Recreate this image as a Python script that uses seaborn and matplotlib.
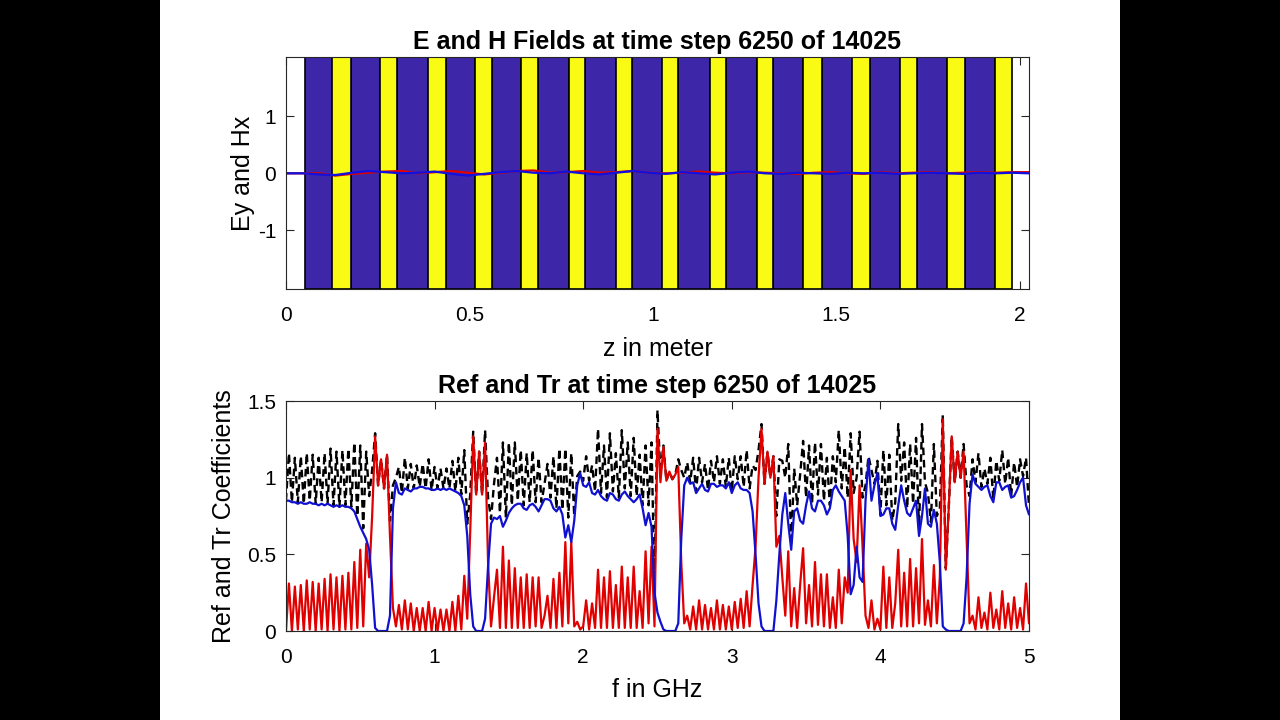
import numpy as np
import matplotlib
matplotlib.use("Agg")
import matplotlib.pyplot as plt
from matplotlib.patches import Rectangle
import seaborn as sns

# ---------------- data ----------------
# top panel: photonic layer stack (z in metres)
stack_start_m = 0.0518
yellow_start_m = [0.1262, 0.2561, 0.3861, 0.5150, 0.6411, 0.7719, 0.8992, 1.0253,
                  1.1553, 1.2842, 1.4095, 1.5414, 1.6730, 1.8003, 1.9319]
yellow_end_m = [0.1763, 0.3033, 0.4351, 0.5621, 0.6880, 0.8147, 0.9420, 1.0689,
                1.1989, 1.3278, 1.4597, 1.5913, 1.7185, 1.8501, 1.9774]

# top panel field snapshot (sample step 0.045 m)
z_m = np.round(np.arange(46) * 0.045, 3)
ey_vals = [0.00, 0.00, -0.02, -0.03, 0.01, 0.04, 0.02, 0.00, 0.01, 0.03,
           -0.01, -0.04, -0.01, 0.02, 0.04, 0.01, 0.00, 0.03, 0.00, -0.02,
           0.01, 0.04, 0.01, -0.01, 0.02, 0.00, -0.02, 0.01, 0.03, 0.00,
           -0.01, 0.01, 0.00, -0.01, 0.01, 0.00, 0.01, -0.01, 0.00, 0.01,
           0.00, -0.01, 0.01, 0.00, 0.01, 0.00]
hx_vals = [0.00, 0.00, 0.00, -0.04, -0.01, 0.01, 0.03, 0.04, 0.00, 0.02,
           0.04, 0.01, -0.02, 0.01, 0.04, 0.05, 0.01, 0.02, 0.04, 0.01,
           0.02, 0.04, 0.01, 0.00, 0.01, 0.03, 0.01, 0.00, 0.02, 0.01,
           0.00, -0.01, 0.01, 0.02, 0.00, -0.01, 0.02, 0.00, 0.01, 0.02,
           0.00, 0.01, 0.02, 0.01, 0.02, 0.02]

# bottom panel: spectra sampled every 0.02 GHz from 0 to 5 GHz
freq_ghz = np.round(np.arange(251) * 0.02, 2)
ref_vals = [
    0.00, 0.31, 0.00, 0.29, 0.01, 0.30, 0.00, 0.33, 0.01, 0.32,
    0.00, 0.31, 0.01, 0.34, 0.00, 0.37, 0.01, 0.35, 0.00, 0.36,
    0.01, 0.38, 0.01, 0.45, 0.02, 0.53, 0.03, 0.57, 0.35, 0.75,
    1.27, 0.95, 1.12, 0.93, 1.15, 0.62, 0.15, 0.03, 0.17, 0.01,
    0.20, 0.01, 0.18, 0.00, 0.15, 0.00, 0.15, 0.00, 0.19, 0.00,
    0.15, 0.00, 0.14, 0.00, 0.14, 0.00, 0.19, 0.00, 0.23, 0.01,
    0.36, 0.08, 0.65, 1.27, 0.89, 1.17, 0.89, 1.23, 0.45, 0.03,
    0.22, 0.40, 0.02, 0.55, 0.02, 0.46, 0.02, 0.41, 0.02, 0.35,
    0.02, 0.37, 0.02, 0.35, 0.03, 0.35, 0.02, 0.10, 0.23, 0.02,
    0.34, 0.02, 0.38, 0.03, 0.58, 0.05, 0.58, 0.03, 0.06, 0.01,
    0.03, 0.20, 0.01, 0.18, 0.02, 0.40, 0.02, 0.35, 0.02, 0.39,
    0.02, 0.30, 0.02, 0.42, 0.02, 0.35, 0.02, 0.42, 0.02, 0.26,
    0.02, 0.52, 0.05, 0.55, 0.03, 1.32, 0.97, 1.20, 0.98, 1.04,
    0.99, 1.02, 1.07, 0.45, 0.05, 0.10, 0.01, 0.16, 0.01, 0.20,
    0.01, 0.17, 0.01, 0.15, 0.01, 0.20, 0.01, 0.17, 0.01, 0.16,
    0.01, 0.19, 0.02, 0.21, 0.02, 0.26, 0.03, 0.30, 0.55, 1.00,
    1.32, 0.96, 1.17, 1.00, 1.14, 0.55, 0.62, 0.35, 0.10, 0.52,
    0.03, 0.28, 0.02, 0.30, 0.54, 0.05, 0.30, 0.03, 0.45, 0.04,
    0.37, 0.03, 0.37, 0.02, 0.22, 0.02, 0.40, 0.05, 0.35, 0.25,
    1.05, 0.60, 0.45, 0.95, 0.55, 0.10, 0.02, 0.20, 0.01, 0.08,
    0.01, 0.42, 0.02, 0.35, 0.02, 0.18, 0.53, 0.03, 0.38, 0.03,
    0.47, 0.03, 0.41, 0.05, 0.60, 0.04, 0.20, 0.03, 0.43, 0.05,
    0.35, 1.38, 0.40, 0.80, 1.27, 0.97, 1.17, 1.00, 1.17, 0.60,
    0.05, 0.10, 0.01, 0.22, 0.02, 0.12, 0.01, 0.25, 0.02, 0.14,
    0.01, 0.26, 0.02, 0.18, 0.01, 0.22, 0.02, 0.15, 0.01, 0.31, 0.05]
tr_vals = [
    0.85, 0.85, 0.84, 0.84, 0.83, 0.84, 0.83, 0.83, 0.84, 0.83,
    0.83, 0.82, 0.83, 0.82, 0.83, 0.82, 0.81, 0.82, 0.81, 0.82,
    0.81, 0.81, 0.80, 0.78, 0.73, 0.68, 0.64, 0.60, 0.53, 0.30,
    0.02, 0.00, 0.00, 0.00, 0.00, 0.10, 0.80, 0.97, 0.90, 0.89,
    0.93, 0.92, 0.91, 0.93, 0.93, 0.94, 0.94, 0.93, 0.93, 0.92,
    0.92, 0.93, 0.92, 0.93, 0.92, 0.93, 0.92, 0.91, 0.90, 0.88,
    0.82, 0.62, 0.24, 0.03, 0.00, 0.00, 0.00, 0.08, 0.42, 0.70,
    0.74, 0.73, 0.75, 0.68, 0.72, 0.77, 0.80, 0.82, 0.83, 0.83,
    0.80, 0.79, 0.82, 0.83, 0.81, 0.78, 0.82, 0.86, 0.86, 0.85,
    0.80, 0.78, 0.81, 0.76, 0.61, 0.69, 0.58, 0.72, 0.95, 1.03,
    0.95, 0.94, 0.97, 0.90, 0.89, 0.92, 0.88, 0.86, 0.85, 0.90,
    0.89, 0.86, 0.85, 0.89, 0.91, 0.88, 0.86, 0.84, 0.86, 0.89,
    0.80, 0.69, 0.77, 0.68, 0.25, 0.12, 0.06, 0.01, 0.00, 0.00,
    0.00, 0.00, 0.05, 0.60, 0.95, 1.00, 0.96, 0.97, 0.90, 0.93,
    0.96, 0.92, 0.91, 0.96, 0.96, 0.94, 0.95, 0.95, 0.93, 0.97,
    0.90, 0.95, 0.97, 0.93, 0.92, 0.92, 0.90, 0.78, 0.50, 0.18,
    0.03, 0.00, 0.00, 0.00, 0.00, 0.20, 0.50, 0.76, 0.90, 0.70,
    0.53, 0.78, 0.80, 0.72, 0.70, 0.82, 0.91, 0.80, 0.78, 0.85,
    0.85, 0.82, 0.76, 0.80, 0.92, 0.95, 0.91, 0.88, 0.85, 0.62,
    0.24, 0.30, 0.55, 0.35, 0.32, 0.85, 1.12, 0.85, 0.95, 1.03,
    0.75, 0.76, 0.80, 0.80, 0.70, 0.66, 0.82, 0.95, 0.85, 0.77,
    0.75, 0.80, 0.85, 0.62, 0.75, 0.93, 0.70, 0.68, 0.79, 0.70,
    0.45, 0.03, 0.01, 0.00, 0.00, 0.00, 0.00, 0.00, 0.05, 0.35,
    0.83, 1.02, 0.96, 0.94, 0.92, 0.94, 0.95, 0.88, 0.84, 0.97,
    0.97, 0.92, 0.94, 0.95, 0.87, 0.88, 0.92, 0.97, 1.00, 0.82, 0.76]

# conservation curve: Ref + Tr
con_vals = np.array(ref_vals) + np.array(tr_vals)

top_xticks = [0, 0.5, 1, 1.5, 2]
top_xticklabels = ["0", "0.5", "1", "1.5", "2"]
top_yticks = [-1, 0, 1]
top_yticklabels = ["-1", "0", "1"]
bot_xticks = [0, 1, 2, 3, 4, 5]
bot_yticks = [0, 0.5, 1, 1.5]
bot_yticklabels = ["0", "0.5", "1", "1.5"]

# ---------------- style ----------------
sns.set_style("white")
plt.rcParams["font.family"] = ["Liberation Sans", "DejaVu Sans"]
plt.rcParams["axes.unicode_minus"] = False
plt.rcParams["text.color"] = "black"
plt.rcParams["axes.labelcolor"] = "black"

BLUE_LAYER = "#3E26A8"
YELLOW_LAYER = "#F9FB15"
TICK_FS = 15
LABEL_FS = 18
TITLE_FS = 18

fig = plt.figure(figsize=(12.8, 7.2), dpi=100)
fig.patch.set_facecolor("black")
fig.patches.append(Rectangle((0.125, 0.0), 0.75, 1.0, transform=fig.transFigure,
                             facecolor="white", edgecolor="none", zorder=-10))

ax1 = fig.add_axes([0.2234, 0.5986, 0.5805, 0.3222])
ax2 = fig.add_axes([0.2234, 0.1236, 0.5805, 0.3194])

# ---- top panel ----
blue_starts = [stack_start_m] + yellow_end_m[:-1]
for b0, b1 in zip(blue_starts, yellow_start_m):
    ax1.axvspan(b0, b1, facecolor=BLUE_LAYER, edgecolor="black", linewidth=1.2, zorder=1)
for y0, y1 in zip(yellow_start_m, yellow_end_m):
    ax1.axvspan(y0, y1, facecolor=YELLOW_LAYER, edgecolor="black", linewidth=1.2, zorder=1)

sns.lineplot(x=z_m, y=hx_vals, ax=ax1, color="#E00000", linewidth=1.6, zorder=3)
sns.lineplot(x=z_m, y=ey_vals, ax=ax1, color="#1010E0", linewidth=1.6, zorder=4)

ax1.set_xlim(0, 2.025)
ax1.set_ylim(-2.03, 2.04)
ax1.set_xticks(top_xticks)
ax1.set_xticklabels(top_xticklabels)
ax1.set_yticks(top_yticks)
ax1.set_yticklabels(top_yticklabels)
ax1.set_xlabel("z in meter", fontsize=LABEL_FS, labelpad=9)
ax1.set_ylabel("Ey and Hx", fontsize=LABEL_FS, labelpad=2)
ax1.set_title("E and H Fields at time step 6250 of 14025", fontsize=TITLE_FS,
              fontweight="bold", pad=6, color="black")

# ---- bottom panel ----
sns.lineplot(x=freq_ghz, y=con_vals, ax=ax2, color="black", linewidth=1.7,
             linestyle=(0, (3.2, 2.0)), zorder=3)
sns.lineplot(x=freq_ghz, y=ref_vals, ax=ax2, color="#E00000", linewidth=1.6, zorder=4)
sns.lineplot(x=freq_ghz, y=tr_vals, ax=ax2, color="#1010D0", linewidth=1.6, zorder=5)

ax2.set_xlim(0, 5)
ax2.set_ylim(0, 1.5)
ax2.set_xticks(bot_xticks)
ax2.set_yticks(bot_yticks)
ax2.set_yticklabels(bot_yticklabels)
ax2.set_xlabel("f in GHz", fontsize=LABEL_FS, labelpad=8)
ax2.set_ylabel("Ref and Tr Coefficients", fontsize=LABEL_FS, labelpad=8)
ax2.set_title("Ref and Tr at time step 6250 of 14025", fontsize=TITLE_FS,
              fontweight="bold", pad=6, color="black")

for ax in (ax1, ax2):
    ax.set_facecolor("white")
    for s in ax.spines.values():
        s.set_visible(True)
        s.set_color("#262626")
        s.set_linewidth(0.8)
        s.set_zorder(10)
    ax.tick_params(direction="in", length=6, width=0.8, colors="#262626",
                   labelcolor="black", labelsize=TICK_FS, top=True, right=True,
                   bottom=True, left=True, pad=7)
    ax.tick_params(axis="x", pad=12)

fig.savefig("out.png", dpi=100, facecolor=fig.get_facecolor())
